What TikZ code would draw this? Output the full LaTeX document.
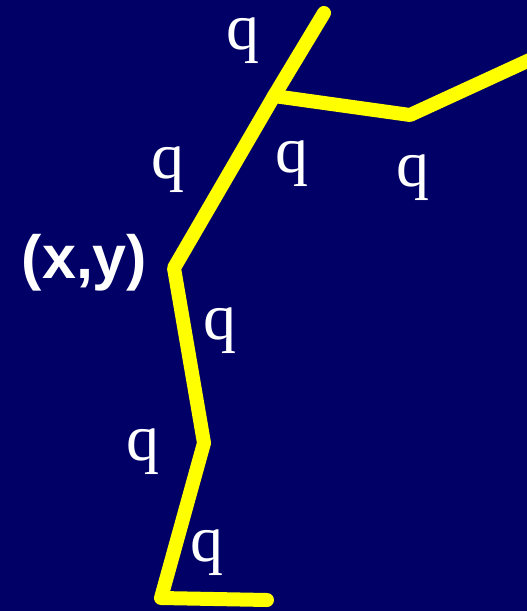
\documentclass[tikz,border=0pt]{standalone}
\usepackage{fontspec}
\setmainfont{Liberation Serif}
\newfontfamily\labsans{Liberation Sans}
\definecolor{navybg}{RGB}{0,0,102}
\definecolor{limb}{RGB}{255,255,0}
\tikzset{
  bone/.style={draw=limb, line width=14pt, line cap=round, line join=round},
  qlabel/.style={text=white, inner sep=0pt, font=\fontsize{66}{66}\selectfont},
  ptlabel/.style={text=white, inner sep=0pt, font=\labsans\bfseries\fontsize{61}{61}\selectfont}
}
\begin{document}
\begin{tikzpicture}[x=1pt,y=-1pt]
\fill[navybg] (0,0) rectangle (527,611);
\useasboundingbox (0,0) rectangle (527,611);
\coordinate (top) at (324,13);
\coordinate (jn) at (274,96);
\coordinate (rb) at (410,115);
\coordinate (rend) at (560,46);
\coordinate (xy) at (174,268);
\coordinate (knee) at (204,443);
\coordinate (foot) at (161,598);
\coordinate (toe) at (267,600);
\begin{scope}
\clip (0,0) rectangle (527,611);
\draw[bone] (top) -- (jn) -- (xy) -- (knee) -- (foot) -- (toe);
\draw[bone] (jn) -- (rb) -- (rend);
\end{scope}
\node[qlabel] (q1) at (243,41) {q};
\node[qlabel] (q2) at (168,170) {q};
\node[qlabel] (q3) at (292,164) {q};
\node[qlabel] (q4) at (413,178) {q};
\node[qlabel] (q5) at (220,331) {q};
\node[qlabel] (q6) at (143,452) {q};
\node[qlabel] (q7) at (207,553) {q};
\node[ptlabel] (lxy) at (84.5,262.5) {(x,y)};
\end{tikzpicture}
\end{document}
